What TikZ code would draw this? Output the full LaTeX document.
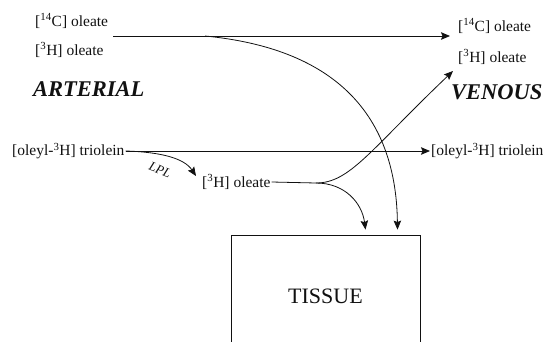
\documentclass[tikz,border=0pt]{standalone}
\usepackage{fontspec}
\setmainfont{Liberation Serif}
\usepackage{tikz}
\usetikzlibrary{positioning,arrows.meta}
\tikzset{fluxpx/.style={x=1pt,y=-1pt}}
\definecolor{fxline}{HTML}{111111}
\tikzset{
  rotulo/.style={font=\fontsize{15.5}{18}\selectfont,text=fxline,inner sep=1pt,anchor=west},
  leito/.style={font=\fontsize{22.5}{26}\selectfont\bfseries\itshape,text=fxline,inner sep=1pt,anchor=west},
  fluxo/.style={draw=fxline,line width=0.8pt},
  seta/.style={fluxo,-{Stealth[length=9pt,width=7.5pt,inset=1.5pt]}},
}

\begin{document}
\begin{tikzpicture}[fluxpx,
  tecido/.style={draw=fxline,line width=0.8pt,minimum width=189pt,minimum height=122pt,
    font=\fontsize{22}{26}\selectfont,text=fxline,inner sep=0pt},
  enzima/.style={font=\fontsize{13}{15}\selectfont\itshape,text=fxline,inner sep=0pt,rotate=-22}]
  \useasboundingbox (0,0) rectangle (550,341);
  \node[rotulo] (ac) at (34,21) {[\textsuperscript{14}C] oleate};
  \node[rotulo] (ah) at (34,50) {[\textsuperscript{3}H] oleate};
  \node[leito] (art) at (32,89) {ARTERIAL};
  \node[rotulo] (vc) at (457,26) {[\textsuperscript{14}C] oleate};
  \node[rotulo] (vh) at (457,57) {[\textsuperscript{3}H] oleate};
  \node[leito] (ven) at (450,92) {VENOUS};
  \node[rotulo] (atg) at (11,151) {[oleyl-\textsuperscript{3}H] triolein};
  \node[rotulo] (vtg) at (430,151) {[oleyl-\textsuperscript{3}H] triolein};
  \node[rotulo] (ol) at (201,182) {[\textsuperscript{3}H] oleate};
  \node[tecido] (tis) at (325.5,296) {TISSUE};
  \coordinate (aorig) at (113,36);
  \coordinate (vfim) at (450,36);
  \coordinate (bif) at (316,183);
  \coordinate (vfh) at (453,71);
  \draw[seta] (aorig) -- (vfim);
  \draw[seta] (205,36) .. controls (330,48) and (396,110) .. ([xshift=72pt,yshift=5pt]tis.north);
  \draw[seta] (atg.east) -- (vtg.west);
  \draw[seta] (atg.east) .. controls (160,152) and (184,158) .. ([xshift=-5pt,yshift=6pt]ol.west);
  \node[enzima] (lpl) at (160,170) {LPL};
  \draw[fluxo] (ol.east) -- (bif);
  \draw[seta] (bif) .. controls (350,183) and (370,150) .. (vfh);
  \draw[seta] (bif) .. controls (345,183) and (362,203) .. ([xshift=40pt,yshift=5pt]tis.north);
\end{tikzpicture}
\end{document}
